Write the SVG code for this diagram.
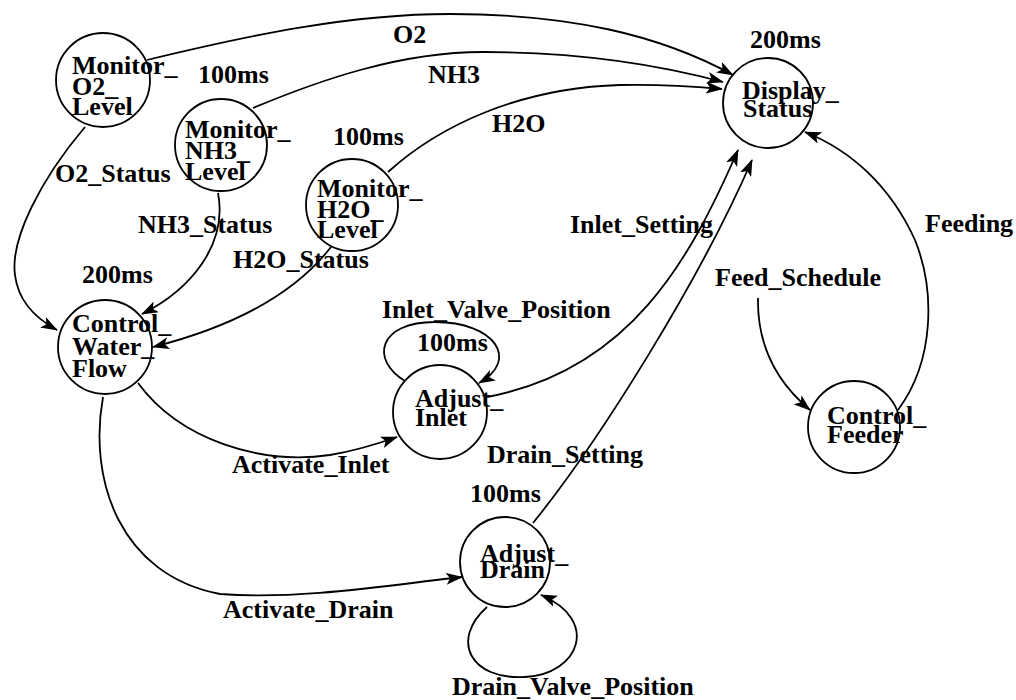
<svg xmlns="http://www.w3.org/2000/svg" width="1016" height="700" viewBox="0 0 1016 700">
<style>
text{font-family:'Liberation Serif','Times New Roman',serif;font-weight:700;font-size:26px;fill:#000}
.node circle{fill:#fff;stroke:#000;stroke-width:1.8}
.edges path{fill:none;stroke:#000;stroke-width:1.8}
.arr{marker-end:url(#ah)}
</style>
<defs>
<marker id="ah" markerUnits="userSpaceOnUse" markerWidth="18" markerHeight="12" refX="16" refY="6" orient="auto">
<path d="M0,0 L17,6 L0,12 L4,6 Z" fill="#000"/>
</marker>
</defs>
<rect width="1016" height="700" fill="#fff"/>
<g class="edges">
<path class="arr" d="M147,60 C250,35 350,14 450,14 C570,14 660,35 733,75"/>
<path class="arr" d="M253,108 C320,80 400,52 483,52 C580,52 660,65 723,82"/>
<path class="arr" d="M388,172 C440,125 520,88 620,85 C665,84 700,87 722,89"/>
<path class="arr" d="M85,127 C40,180 10,240 15,275 C18,300 35,318 57,330"/>
<path class="arr" d="M218,193 C228,245 190,290 142,314"/>
<path class="arr" d="M331,247 C290,300 220,330 153,347"/>
<path class="arr" d="M138,383 C180,440 260,465 330,455 C360,450 380,443 397,437"/>
<path class="arr" d="M103,397 C88,480 120,575 220,594 C300,600 390,585 462,577"/>
<path class="arr" d="M405,381 C370,360 378,322 435,322 C495,322 520,360 479,383"/>
<path class="arr" d="M487,397 C630,370 690,260 738,150"/>
<path class="arr" d="M533,523 C600,440 700,280 752,160"/>
<path class="arr" d="M898,410 C935,360 935,290 915,240 C890,185 850,150 805,132"/>
<path class="arr" d="M758,298 C757,350 780,385 810,410"/>
<path class="arr" d="M487,607 C450,640 470,680 525,677 C580,674 600,620 541,595"/>
</g>
<g id="monitor_o2_level" class="node">
<circle cx="103" cy="80" r="47"/>
<text x="72" y="74">Monitor_</text><text x="72" y="95">O2_</text><text x="72" y="115">Level</text>
</g>
<g id="monitor_nh3_level" class="node">
<circle cx="221" cy="145" r="46"/>
<text x="185" y="138">Monitor_</text><text x="185" y="159">NH3_</text><text x="185" y="180">Level</text>
</g>
<g id="monitor_h2o_level" class="node">
<circle cx="352" cy="205" r="46"/>
<text x="317" y="197">Monitor_</text><text x="317" y="218">H2O_</text><text x="317" y="238">Level</text>
</g>
<g id="display_status" class="node">
<circle cx="768" cy="103" r="45"/>
<text x="742" y="99">Display_</text><text x="743" y="117">Status</text>
</g>
<g id="control_water_flow" class="node">
<circle cx="105" cy="347" r="47"/>
<text x="72" y="332">Control_</text><text x="72" y="355">Water_</text><text x="72" y="377">Flow</text>
</g>
<g id="adjust_inlet" class="node">
<circle cx="440" cy="412" r="47"/>
<text x="415" y="407">Adjust_</text><text x="415" y="426">Inlet</text>
</g>
<g id="adjust_drain" class="node">
<circle cx="505" cy="562" r="45"/>
<text x="480" y="562">Adjust_</text><text x="480" y="578">Drain</text>
</g>
<g id="control_feeder" class="node">
<circle cx="854" cy="427" r="46"/>
<text x="827" y="424">Control_</text><text x="827" y="443">Feeder</text>
</g>
<g id="labels">
<text x="393" y="43">O2</text>
<text x="428" y="83">NH3</text>
<text x="492" y="132">H2O</text>
<text x="198" y="83">100ms</text>
<text x="333" y="145">100ms</text>
<text x="750" y="48">200ms</text>
<text x="925" y="232">Feeding</text>
<text x="55" y="182">O2_Status</text>
<text x="138" y="233">NH3_Status</text>
<text x="233" y="268">H2O_Status</text>
<text x="82" y="283">200ms</text>
<text x="570" y="233">Inlet_Setting</text>
<text x="715" y="286">Feed_Schedule</text>
<text x="382" y="318">Inlet_Valve_Position</text>
<text x="417" y="351">100ms</text>
<text x="487" y="463">Drain_Setting</text>
<text x="232" y="473">Activate_Inlet</text>
<text x="223" y="618">Activate_Drain</text>
<text x="470" y="502">100ms</text>
<text x="452" y="695">Drain_Valve_Position</text>
</g>
</svg>
